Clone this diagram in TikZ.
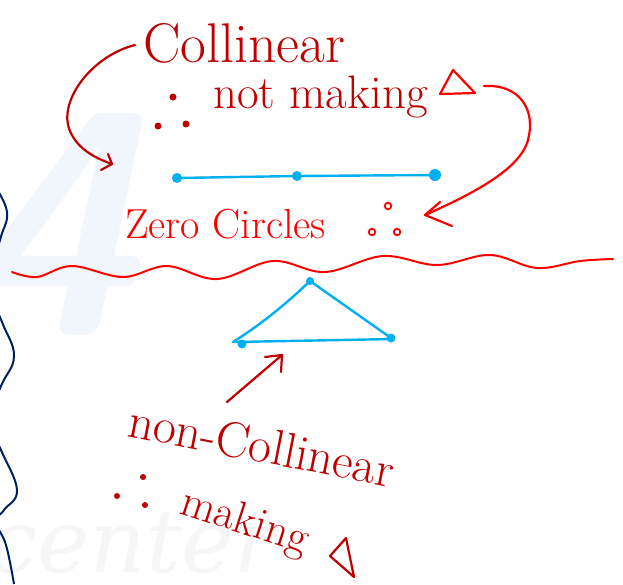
\documentclass[tikz,border=0pt]{standalone}
\usepackage{fontspec}
\newfontfamily\wmfont{DejaVu Serif}
\usetikzlibrary{arrows.meta}
\definecolor{dred}{RGB}{192,0,0}
\definecolor{bred}{RGB}{255,0,0}
\definecolor{sky}{RGB}{0,176,240}
\definecolor{navy}{RGB}{0,32,96}
\definecolor{wmblue}{RGB}{240,246,251}
\definecolor{wmgray}{RGB}{246,246,246}
\tikzset{
  hand/.style={inner sep=0pt, anchor=base west},
  darkpen/.style={draw=dred, line width=2.2pt, line cap=round, line join=round},
  brightpen/.style={draw=bred, line width=2.2pt, line cap=round, line join=round},
  bluepen/.style={draw=sky, line width=2.4pt, line cap=round, line join=round},
  bluedot/.style={circle, fill=sky, inner sep=0pt, minimum size=10pt},
  reddot/.style={circle, fill=dred, inner sep=0pt, minimum size=7pt},
  ring/.style={circle, draw=bred, line width=1.8pt, inner sep=0pt, minimum size=6.5pt},
}
\begin{document}
\begin{tikzpicture}[x=1pt,y=-1pt]
\useasboundingbox[fill=white] (0,0) rectangle (623,584);
% watermarks
\node[hand, text=wmblue, font=\sffamily\bfseries\itshape\fontsize{320}{320}\selectfont] (wm4) at (-40,335) {4};
\node[hand, text=wmgray, font=\wmfont\itshape\fontsize{88}{88}\selectfont] (wmc) at (-12,572) {center};
% navy edge curve
\draw[navy, line width=2pt] plot[smooth, tension=0.7] coordinates {(-6,185) (7,212) (0,240) (-12,285) (2,322) (14,356) (1,386) (-12,420) (1,450) (17,490) (4,510) (-4,522) (6,545) (14,584)};
% upper texts
\node[hand, text=dred, font=\fontsize{56}{56}\selectfont] (col) at (143,62) {Collinear};
\node[reddot] (d1) at (173,97) {};
\node[reddot] (d2) at (158,126) {};
\node[reddot] (d3) at (186,124) {};
\node[hand, text=dred, font=\fontsize{47}{47}\selectfont] (nm) at (213,108) {not making};
\coordinate (t1a) at (453,70);
\coordinate (t1b) at (475,93);
\coordinate (t1c) at (440,94);
\draw[brightpen] (t1a) -- (t1b) -- (t1c) -- cycle;
% collinear line
\node[bluedot] (p1) at (177,178) {};
\node[bluedot] (p2) at (297,176) {};
\node[bluedot, minimum size=12pt] (p3) at (435,175) {};
\draw[bluepen] (p1.center) -- (p2.center) -- (p3.center);
% zero circles
\node[hand, text=bred, font=\fontsize{42}{42}\selectfont] (zc) at (125,238) {Zero Circles};
\node[ring] (r1) at (388,206) {};
\node[ring] (r2) at (372,232) {};
\node[ring] (r3) at (397,232) {};
% arrows
\coordinate (a1s) at (135,45);
\coordinate (a1e) at (112,164);
\draw[darkpen] (a1s) .. controls (95,55) and (62,95) .. (68,125) .. controls (74,148) and (95,158) .. (a1e);
\draw[darkpen] (108,154) -- (a1e) -- (101,170);
\coordinate (a2s) at (484,86);
\coordinate (a2e) at (425,215);
\draw[brightpen] (a2s) .. controls (520,84) and (536,110) .. (528,140) .. controls (520,170) and (470,195) .. (a2e);
\draw[brightpen] (440,202) -- (a2e) -- (452,226);
% wavy divider
\draw[bred, line width=2pt, line cap=round] plot[smooth, tension=0.6] coordinates {(12,272) (37,277) (72,266) (123,277) (167,266) (217,279) (273,261) (325,272) (383,256) (437,265) (490,255) (537,268) (580,261) (613,259)};
% triangle
\node[bluedot, minimum size=8pt] (q1) at (310,281) {};
\node[bluedot, minimum size=9pt] (q2) at (242,344) {};
\node[bluedot, minimum size=9pt] (q3) at (391,338) {};
\draw[bluepen] (q1.center) .. controls (285,305) and (260,325) .. (233,342);
\draw[bluepen] (q1.center) -- (q3.center);
\draw[bluepen] (235,342) -- (394,339);
% lower arrow
\coordinate (a3s) at (227,402);
\coordinate (a3e) at (282,355);
\draw[darkpen] (a3s) -- (a3e);
\draw[darkpen] (265,357) -- (a3e) -- (281,372);
% lower texts
\node[hand, text=dred, font=\fontsize{50}{50}\selectfont, rotate=-11] (nc) at (126,436) {non-Collinear};
\node[reddot, minimum size=6pt] (e1) at (143,477) {};
\node[reddot, minimum size=6pt] (e2) at (117,496) {};
\node[reddot, minimum size=6pt] (e3) at (145,505) {};
\node[hand, text=dred, font=\fontsize{45}{45}\selectfont, rotate=-18] (mk) at (178,513) {making};
\coordinate (t2a) at (346,538);
\coordinate (t2b) at (354,577);
\coordinate (t2c) at (330,556);
\draw[darkpen] (t2a) -- (t2b) -- (t2c) -- cycle;
\end{tikzpicture}
\end{document}
